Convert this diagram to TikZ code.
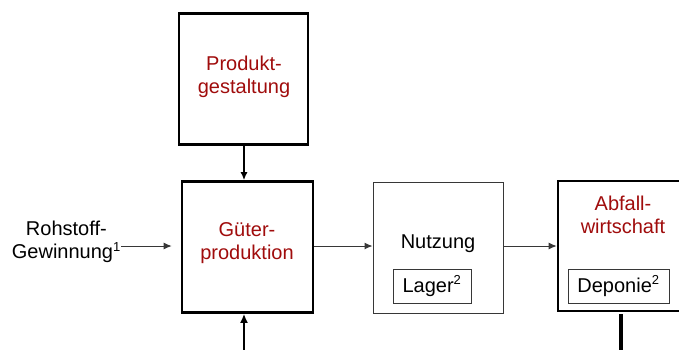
\documentclass[tikz,border=0pt]{standalone}
\usepackage{fontspec}
\setmainfont{Liberation Sans}
\usetikzlibrary{arrows.meta}
\definecolor{darkred}{RGB}{160,12,12}
\definecolor{linegray}{RGB}{55,55,55}
\begin{document}
\begin{tikzpicture}[x=1pt,y=-1pt,
  txt/.style={font=\fontsize{20}{23.5}\selectfont, align=center, inner sep=0pt},
  redtxt/.style={txt, text=darkred},
  thickbox/.style={draw=black, line width=2.6pt, minimum width=#1, inner sep=0pt},
  thinbox/.style={draw=linegray, line width=1pt, inner sep=0pt},
  arr/.style={-{Latex[length=8pt,width=7pt]}}]
\clip (0,0) rectangle (679,349);
\fill[white] (0,0) rectangle (679,349);
% boxes
\node[thickbox=129pt, minimum height=131pt] (prod) at (243.5,79) {};
\node[thickbox=131pt, minimum height=131pt] (gut) at (247.5,247) {};
\node[thinbox, minimum width=130pt, minimum height=131pt] (nutz) at (438,247.5) {};
\node[thickbox=140pt, minimum height=130pt] (abf) at (628,246) {};
\node[thinbox, minimum width=78pt, minimum height=34pt] (lager) at (432,286) {};
\node[thinbox, minimum width=101pt, minimum height=34pt] (dep) at (618.5,286) {};
% texts
\node[redtxt] (tprod) at (244,77) {Produkt-\\gestaltung};
\node[redtxt] (tgut) at (247,243) {Güter-\\produktion};
\node[txt] (tnutz) at (438,244) {Nutzung};
\node[redtxt] (tabf) at (623,215) {Abfall-\\wirtschaft};
\node[txt] (tlager) at (432,286) {Lager\textsuperscript{\fontsize{13}{13}\selectfont 2}};
\node[txt] (tdep) at (618.5,286) {Deponie\textsuperscript{\fontsize{13}{13}\selectfont 2}};
\node[txt, anchor=east] (troh) at (121,242) {Rohstoff-\\Gewinnung\textsuperscript{\fontsize{13}{13}\selectfont 1}};
% connectors
\coordinate (rohend) at (121,246);
\coordinate (gutin) at (gut.west |- rohend);
\draw[arr, draw=linegray, line width=1pt] (rohend) -- ([xshift=-9pt]gutin);
\draw[arr, line width=1.6pt] (prod.south -| 244,0) -- (gut.north -| 244,0);
\coordinate (botstart) at (244,352);
\draw[-{Latex[length=9pt,width=8pt]}, line width=2.6pt] (botstart) -- (gut.south -| botstart);
\draw[arr, draw=linegray, line width=1pt] (gut.east |- 0,246) -- (nutz.west |- 0,246);
\draw[arr, draw=linegray, line width=1pt] (nutz.east |- 0,246) -- (abf.west |- 0,246);
\coordinate (abfend) at (621,352);
\draw[line width=3.6pt] (621,314) -- (abfend);
\end{tikzpicture}
\end{document}
